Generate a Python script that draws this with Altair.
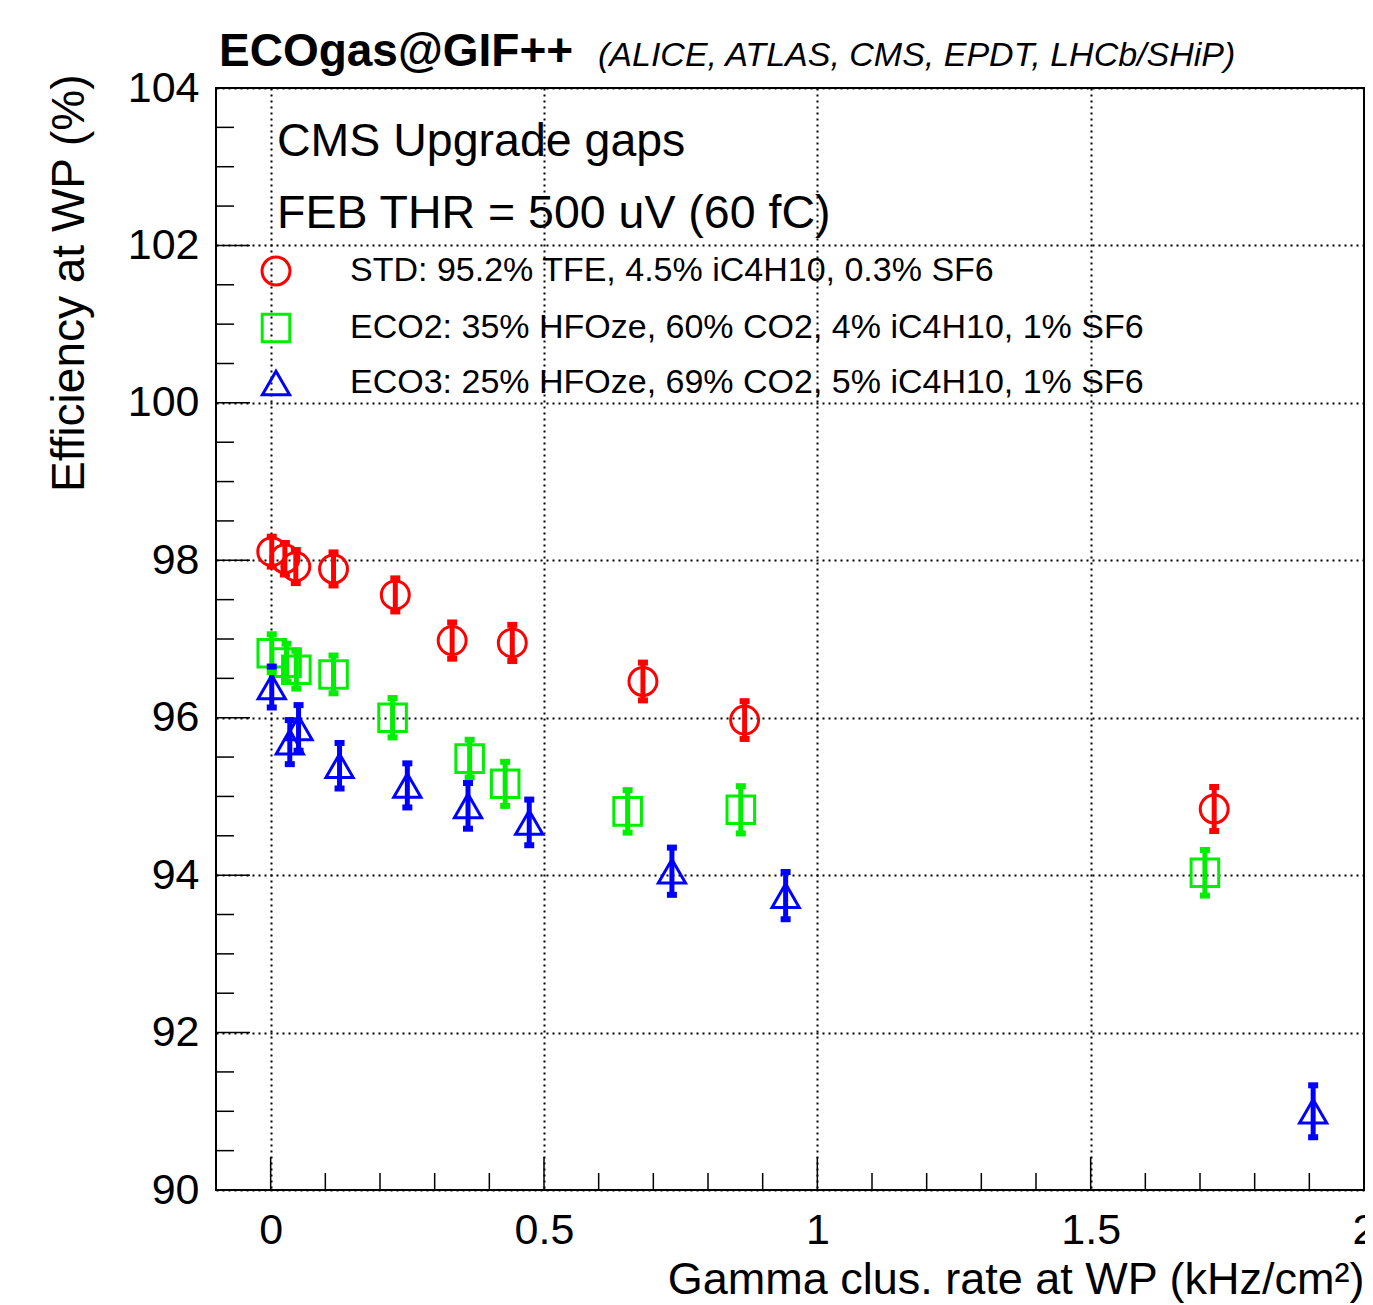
import altair as alt
import pandas as pd

FONT = "Liberation Sans"

series_labels = [
    "STD: 95.2% TFE, 4.5% iC4H10, 0.3% SF6",
    "ECO2: 35% HFOze, 60% CO2, 4% iC4H10, 1% SF6",
    "ECO3: 25% HFOze, 69% CO2, 5% iC4H10, 1% SF6",
]
series_colors = ["#ff0000", "#00ee00", "#0000ff"]
series_shapes = ["circle", "square", "triangle-up"]
series_sizes = [780, 740, 960]

std_rate = [0.002, 0.026, 0.046, 0.115, 0.228, 0.332, 0.442, 0.681, 0.867, 1.726]
std_eff = [98.11, 98.02, 97.92, 97.89, 97.56, 96.98, 96.95, 96.46, 95.97, 94.84]
std_err = [0.19, 0.20, 0.21, 0.21, 0.21, 0.23, 0.23, 0.24, 0.24, 0.28]

eco2_rate = [0.002, 0.029, 0.047, 0.115, 0.223, 0.364, 0.429, 0.653, 0.860, 1.709]
eco2_eff = [96.82, 96.70, 96.61, 96.55, 96.00, 95.48, 95.16, 94.81, 94.83, 94.03]
eco2_err = [0.24, 0.24, 0.24, 0.24, 0.25, 0.24, 0.28, 0.27, 0.30, 0.29]

eco3_rate = [0.002, 0.035, 0.051, 0.126, 0.250, 0.361, 0.473, 0.734, 0.942, 1.907]
eco3_eff = [96.39, 95.69, 95.87, 95.39, 95.14, 94.88, 94.67, 94.05, 93.74, 91.00]
eco3_err = [0.26, 0.28, 0.29, 0.29, 0.28, 0.29, 0.29, 0.30, 0.30, 0.33]

x_major = [0, 0.5, 1, 1.5, 2]
x_minor = [0.1, 0.2, 0.3, 0.4, 0.6, 0.7, 0.8, 0.9, 1.1, 1.2, 1.3, 1.4,
           1.6, 1.7, 1.8, 1.9]
y_major = [90, 92, 94, 96, 98, 100, 102, 104]
y_minor = [90.5, 91, 91.5, 92.5, 93, 93.5, 94.5, 95, 95.5, 96.5, 97, 97.5,
           98.5, 99, 99.5, 100.5, 101, 101.5, 102.5, 103, 103.5]

title_main = "ECOgas@GIF++"
title_sub = "(ALICE, ATLAS, CMS, EPDT, LHCb/SHiP)"
note_lines = ["CMS Upgrade gaps", "FEB THR = 500 uV (60 fC)"]
x_title = "Gamma clus. rate at WP (kHz/cm²)"
y_title = "Efficiency at WP (%)"

W, H = 1148, 1102

rows = []
for lab, col, rates, effs, errs in [
    (series_labels[0], series_colors[0], std_rate, std_eff, std_err),
    (series_labels[1], series_colors[1], eco2_rate, eco2_eff, eco2_err),
    (series_labels[2], series_colors[2], eco3_rate, eco3_eff, eco3_err),
]:
    for r, e, s in zip(rates, effs, errs):
        rows.append({"series": lab, "col": col, "rate": r, "eff": e,
                     "lo": e - s, "hi": e + s})
df = pd.DataFrame(rows)

xs = alt.Scale(domain=[-0.1, 2], nice=False, zero=False)
ys = alt.Scale(domain=[90, 104], nice=False, zero=False)

x_axis = alt.Axis(
    values=x_major, format="~g", grid=True, gridDash=[2, 4], gridColor="black",
    gridWidth=2, gridOpacity=1, ticks=False, tickSize=0, domain=False,
    labelFont=FONT, labelFontSize=43, labelColor="black", labelPadding=53,
    labelBaseline="alphabetic", labelFlush=False, labelOverlap=False,
    title=x_title, titleFont=FONT, titleFontSize=45, titleFontWeight="normal",
    titleColor="black", titleX=W, titleY=103, titleAlign="right",
    titleBaseline="alphabetic", titleAngle=0,
)
y_axis = alt.Axis(
    values=y_major, format="d", grid=True, gridDash=[2, 4], gridColor="black",
    gridWidth=2, gridOpacity=1, ticks=False, tickSize=0, domain=False,
    labelFont=FONT, labelFontSize=43, labelColor="black", labelPadding=17,
    labelAlign="right", labelBaseline="middle", labelFlush=False,
    labelOverlap=False,
    title=y_title, titleFont=FONT, titleFontSize=46, titleFontWeight="normal",
    titleColor="black", titleAngle=270, titleX=-133, titleY=-14,
    titleAlign="right", titleBaseline="alphabetic",
)

leg = alt.Legend(
    title=None, orient="none", legendX=43, legendY=166, direction="vertical",
    labelFont=FONT, labelFontSize=34, labelColor="black", labelLimit=3000,
    labelOffset=57, rowPadding=17, symbolStrokeWidth=3, padding=0,
)

pts = alt.Chart(df).mark_point(filled=False, strokeWidth=3, opacity=1).encode(
    x=alt.X("rate:Q", scale=xs, axis=x_axis),
    y=alt.Y("eff:Q", scale=ys, axis=y_axis),
    color=alt.Color("series:N", scale=alt.Scale(domain=series_labels, range=series_colors), legend=leg),
    shape=alt.Shape("series:N", scale=alt.Scale(domain=series_labels, range=series_shapes), legend=leg),
    size=alt.Size("series:N", scale=alt.Scale(domain=series_labels, range=series_sizes), legend=leg),
)

bars = alt.Chart(df).mark_rule(strokeWidth=5, opacity=1).encode(
    x=alt.X("rate:Q", scale=xs),
    y=alt.Y("lo:Q", scale=ys),
    y2="hi:Q",
    color=alt.Color("col:N", scale=None),
)
cap_lo = alt.Chart(df).mark_tick(orient="horizontal", size=10, thickness=6, opacity=1).encode(
    x=alt.X("rate:Q", scale=xs),
    y=alt.Y("lo:Q", scale=ys),
    color=alt.Color("col:N", scale=None),
)
cap_hi = alt.Chart(df).mark_tick(orient="horizontal", size=10, thickness=6, opacity=1).encode(
    x=alt.X("rate:Q", scale=xs),
    y=alt.Y("hi:Q", scale=ys),
    color=alt.Color("col:N", scale=None),
)

def xticks(vals, length):
    return alt.Chart(pd.DataFrame({"v": vals})).mark_rule(color="black", strokeWidth=1.5).encode(
        x=alt.X("v:Q", scale=xs), y=alt.value(H), y2=alt.value(H - length))

def yticks(vals, length):
    return alt.Chart(pd.DataFrame({"w": vals})).mark_rule(color="black", strokeWidth=1.5).encode(
        y=alt.Y("w:Q", scale=ys), x=alt.value(0), x2=alt.value(length))

def label(text, px, py, size, weight="normal", style="normal"):
    return alt.Chart(pd.DataFrame({"t": [text]})).mark_text(
        font=FONT, fontSize=size, fontWeight=weight, fontStyle=style,
        align="left", baseline="alphabetic", color="black",
    ).encode(text="t:N", x=alt.value(px), y=alt.value(py))

chart = alt.layer(
    pts, bars, cap_lo, cap_hi,
    xticks(x_major, 33), xticks(x_minor, 17),
    yticks(y_major, 34), yticks(y_minor, 18),
    label(title_main, 3, -22, 46, weight="bold"),
    label(title_sub, 382, -22, 34, style="italic"),
    label(note_lines[0], 61, 68, 46.5),
    label(note_lines[1], 61, 140, 46.5),
).properties(
    width=W, height=H,
    autosize=alt.AutoSizeParams(type="none"),
    padding={"left": 208, "top": 80, "right": 1, "bottom": 113},
    background="white",
).configure_view(stroke="black", strokeWidth=2)

chart.save("out.html", embed_options={"renderer": "svg", "actions": False})
